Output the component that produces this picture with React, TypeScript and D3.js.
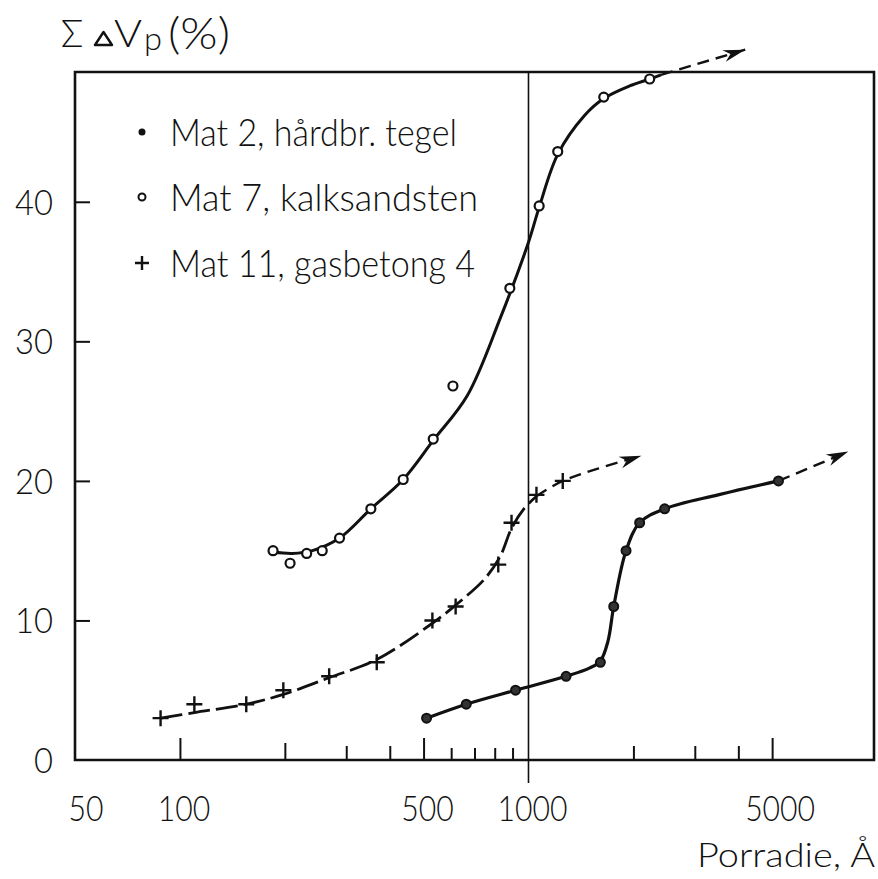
import { useEffect, useRef } from "react";
import * as d3 from "d3";

// Mat 2, hårdbr. tegel (filled dots)
const mat2Radius = [510, 663, 918, 1282, 1608, 1756, 1905, 2084, 2458, 5214];
const mat2Volume = [3, 4, 5, 6, 7, 11, 15, 17, 18, 20];
// drawn curve through the dots
const mat2FitRadius = [510, 663, 918, 1282, 1500, 1608, 1690, 1756, 1905, 2084, 2458, 3500, 5214];
const mat2FitVolume = [3, 4, 5, 6, 6.6, 7.1, 8.5, 11, 15, 17, 18, 19, 20];
const mat2Arrow = [5214, 8270];
const mat2ArrowVol = [20, 22.1];

// Mat 7, kalksandsten (open circles)
const mat7Radius = [185, 207, 231, 256, 287, 353, 437, 533, 607, 884, 1073, 1213, 1644, 2227];
const mat7Volume = [15, 14.1, 14.8, 15, 15.9, 18, 20.1, 23, 26.8, 33.8, 39.7, 43.6, 47.5, 48.8];
// the hand drawn mean curve through the scatter
const mat7FitRadius = [185, 210, 240, 287, 353, 437, 533, 667, 831, 1000, 1073, 1213, 1450, 1644, 1950, 2227, 2400];
const mat7FitVolume = [14.9, 14.8, 15.0, 15.9, 18, 20.1, 22.9, 26.1, 31.7, 37.1, 39.6, 43.4, 46.2, 47.4, 48.3, 48.8, 49.1];
const mat7Arrow = [2400, 4185];
const mat7ArrowVol = [49.1, 50.9];

// Mat 11, gasbetong 4 (plus)
const mat11Radius = [88, 110, 155, 198, 268, 367, 530, 618, 819, 894, 1054, 1254];
const mat11Volume = [3, 4, 4, 5, 6, 7, 10, 11, 14, 17, 19, 20];
const mat11FitRadius = [88, 110, 155, 198, 268, 367, 530, 618, 750, 830, 894, 970, 1054];
const mat11FitVolume = [3, 3.4, 4, 4.7, 5.9, 7.2, 9.8, 11.1, 13, 14.6, 16.6, 18, 18.9];
const mat11Arrow = [1054, 1254, 2108];
const mat11ArrowVol = [18.9, 20, 21.8];

const xTicks = [100, 200, 300, 400, 500, 600, 700, 800, 900, 2000, 3000, 4000, 5000];
const xTickLabels = [50, 100, 500, 1000, 5000];
const yTicks = [10, 20, 30, 40];
const yTickLabels = [0, 10, 20, 30, 40];

const legendLabels = ["Mat 2, hårdbr. tegel", "Mat 7, kalksandsten", "Mat 11, gasbetong 4"];

const FONT = "Lato, 'Open Sans', sans-serif";

const App = () => {
  const svgRef = useRef<SVGSVGElement>(null);

  useEffect(() => {
    if (!svgRef.current) return;
    const svg = d3.select(svgRef.current);
    svg.selectAll("*").remove();

    const left = 75, right = 874, top = 72, bottom = 760;
    const x = d3.scaleLog().domain([50, 9800]).range([left, right]);
    const y = d3.scaleLinear().domain([0, 49.3]).range([bottom, top]);

    const pts = (xs: number[], ys: number[]) => xs.map((v, i) => [x(v), y(ys[i])] as [number, number]);
    const line = d3.line().curve(d3.curveCatmullRom.alpha(0.5));

    // frame
    svg.append("path")
      .attr("d", `M${left},${bottom}V${top}H${right}V${bottom}Z`)
      .attr("fill", "none")
      .attr("stroke", "#111")
      .attr("stroke-width", 2.6);

    // 1000 Å reference line, runs below the axis
    svg.append("line")
      .attr("x1", x(1000)).attr("x2", x(1000))
      .attr("y1", top).attr("y2", bottom + 23)
      .attr("stroke", "#111")
      .attr("stroke-width", 1.6);

    // x ticks, inward with varying lengths
    const tickLen = (d: number) => {
      if (d === 100 || d === 500 || d === 5000) return 22;
      if (d === 200) return 17;
      if (d < 1000 && d > 500) return 12;
      return 14;
    };
    const xAxis = svg.append("g")
      .attr("transform", `translate(0,${bottom})`)
      .call(d3.axisBottom(x).tickValues(xTicks).tickSize(0).tickFormat(() => ""));
    xAxis.select(".domain").remove();
    xAxis.selectAll<SVGLineElement, number>(".tick line")
      .attr("y2", (d) => -tickLen(d))
      .attr("stroke", "#111")
      .attr("stroke-width", 2);

    svg.append("g")
      .selectAll("text")
      .data(xTickLabels)
      .join("text")
      .attr("x", (d) => x(d) + (d === 50 ? 11 : d === 5000 ? 8 : 4))
      .attr("y", 821)
      .attr("text-anchor", "middle")
      .attr("textLength", (d) => String(d).length * 17.5)
      .attr("lengthAdjust", "spacingAndGlyphs")
      .style("font-family", FONT)
      .style("font-weight", 300)
      .style("font-size", "36px")
      .style("fill", "#111")
      .text((d) => String(d));

    // y ticks
    const yAxis = svg.append("g")
      .attr("transform", `translate(${left},0)`)
      .call(d3.axisRight(y).tickValues(yTicks).tickSize(15).tickFormat(() => ""));
    yAxis.select(".domain").remove();
    yAxis.selectAll(".tick line").attr("stroke", "#111").attr("stroke-width", 2);

    svg.append("g")
      .selectAll("text")
      .data(yTickLabels)
      .join("text")
      .attr("x", 53)
      .attr("y", (d) => y(d) + 13)
      .attr("text-anchor", "end")
      .attr("textLength", (d) => String(d).length * 19)
      .attr("lengthAdjust", "spacingAndGlyphs")
      .style("font-family", FONT)
      .style("font-weight", 300)
      .style("font-size", "36px")
      .style("fill", "#111")
      .text((d) => String(d));

    // y axis title: Σ ∆Vp (%)
    const title = svg.append("g")
      .style("font-family", FONT)
      .style("font-weight", 300)
      .style("fill", "#111");
    title.append("text").attr("x", 61).attr("y", 47).style("font-size", "37px").text("Σ");
    title.append("path")
      .attr("d", "M95,45L103.5,32L112,45Z")
      .attr("fill", "none")
      .attr("stroke", "#111")
      .attr("stroke-width", 2.4)
      .attr("stroke-linejoin", "round");
    title.append("text").attr("x", 114).attr("y", 47)
      .attr("textLength", 28).attr("lengthAdjust", "spacingAndGlyphs")
      .style("font-size", "38px").text("V");
    title.append("text").attr("x", 144).attr("y", 50)
      .attr("textLength", 18).attr("lengthAdjust", "spacingAndGlyphs")
      .style("font-size", "32px").text("p");
    title.append("text").attr("x", 168).attr("y", 49)
      .attr("textLength", 62).attr("lengthAdjust", "spacingAndGlyphs")
      .style("font-size", "44px").text("(%)");

    svg.append("text")
      .attr("x", 875)
      .attr("y", 867)
      .attr("text-anchor", "end")
      .attr("textLength", 178)
      .attr("lengthAdjust", "spacingAndGlyphs")
      .style("font-family", FONT)
      .style("font-weight", 300)
      .style("font-size", "33px")
      .style("fill", "#111")
      .text("Porradie, Å");

    // arrowhead at the end of a polyline
    const arrowHead = (p: [number, number][]) => {
      const [x1, y1] = p[p.length - 2];
      const [x2, y2] = p[p.length - 1];
      const a = Math.atan2(y2 - y1, x2 - x1);
      const L = 22, W = 6;
      const bx = x2 - L * Math.cos(a), by = y2 - L * Math.sin(a);
      const nx = -Math.sin(a) * W, ny = Math.cos(a) * W;
      const mx = x2 - L * 0.7 * Math.cos(a), my = y2 - L * 0.7 * Math.sin(a);
      svg.append("path")
        .attr("d", `M${x2},${y2}L${bx + nx},${by + ny}L${mx},${my}L${bx - nx},${by - ny}Z`)
        .attr("fill", "#111");
    };

    const drawExt = (xs: number[], ys: number[]) => {
      const p = pts(xs, ys);
      svg.append("path")
        .attr("d", line(p))
        .attr("fill", "none")
        .attr("stroke", "#111")
        .attr("stroke-width", 2.4)
        .attr("stroke-dasharray", "12 7");
      arrowHead(p);
    };

    // Mat 7
    svg.append("path")
      .attr("d", line(pts(mat7FitRadius, mat7FitVolume)))
      .attr("fill", "none")
      .attr("stroke", "#111")
      .attr("stroke-width", 3);
    drawExt(mat7Arrow, mat7ArrowVol);
    svg.append("g")
      .selectAll("circle")
      .data(pts(mat7Radius, mat7Volume))
      .join("circle")
      .attr("cx", (d) => d[0])
      .attr("cy", (d) => d[1])
      .attr("r", 4.5)
      .attr("fill", "#fff")
      .attr("stroke", "#111")
      .attr("stroke-width", 2.2);

    // Mat 11
    svg.append("path")
      .attr("d", line(pts(mat11FitRadius, mat11FitVolume)))
      .attr("fill", "none")
      .attr("stroke", "#111")
      .attr("stroke-width", 2.8)
      .attr("stroke-dasharray", "22 6");
    drawExt(mat11Arrow, mat11ArrowVol);
    svg.append("g")
      .selectAll("path")
      .data(pts(mat11Radius, mat11Volume))
      .join("path")
      .attr("d", (d) => `M${d[0] - 8},${d[1]}H${d[0] + 8}M${d[0]},${d[1] - 8}V${d[1] + 8}`)
      .attr("stroke", "#111")
      .attr("stroke-width", 2.4);

    // Mat 2
    svg.append("path")
      .attr("d", line(pts(mat2FitRadius, mat2FitVolume)))
      .attr("fill", "none")
      .attr("stroke", "#111")
      .attr("stroke-width", 3.2);
    drawExt(mat2Arrow, mat2ArrowVol);
    svg.append("g")
      .selectAll("circle")
      .data(pts(mat2Radius, mat2Volume))
      .join("circle")
      .attr("cx", (d) => d[0])
      .attr("cy", (d) => d[1])
      .attr("r", 4.5)
      .attr("fill", "#333")
      .attr("stroke", "#111")
      .attr("stroke-width", 2);

    // legend
    const legend = svg.append("g").attr("transform", "translate(142,0)");
    const rowY = [132, 197, 263];
    const widths = [287, 308, 305];
    legend.append("circle").attr("cx", 0).attr("cy", rowY[0]).attr("r", 3.5).attr("fill", "#111");
    legend.append("circle").attr("cx", 0).attr("cy", rowY[1]).attr("r", 3.5)
      .attr("fill", "#fff").attr("stroke", "#111").attr("stroke-width", 2);
    legend.append("path")
      .attr("d", `M-7,${rowY[2]}H7M0,${rowY[2] - 7}V${rowY[2] + 7}`)
      .attr("stroke", "#111").attr("stroke-width", 2.4);
    legendLabels.forEach((label, i) => {
      legend.append("text")
        .attr("x", 28)
        .attr("y", rowY[i] + 14)
        .attr("textLength", widths[i])
        .attr("lengthAdjust", "spacingAndGlyphs")
        .style("font-family", FONT)
        .style("font-weight", 300)
        .style("font-size", "38px")
        .style("fill", "#111")
        .text(label);
    });
  }, []);

  return (
    <svg
      ref={svgRef}
      width={878}
      height={879}
      style={{ position: "absolute", left: 0, top: 0, background: "#fff" }}
    />
  );
};

export default App;
